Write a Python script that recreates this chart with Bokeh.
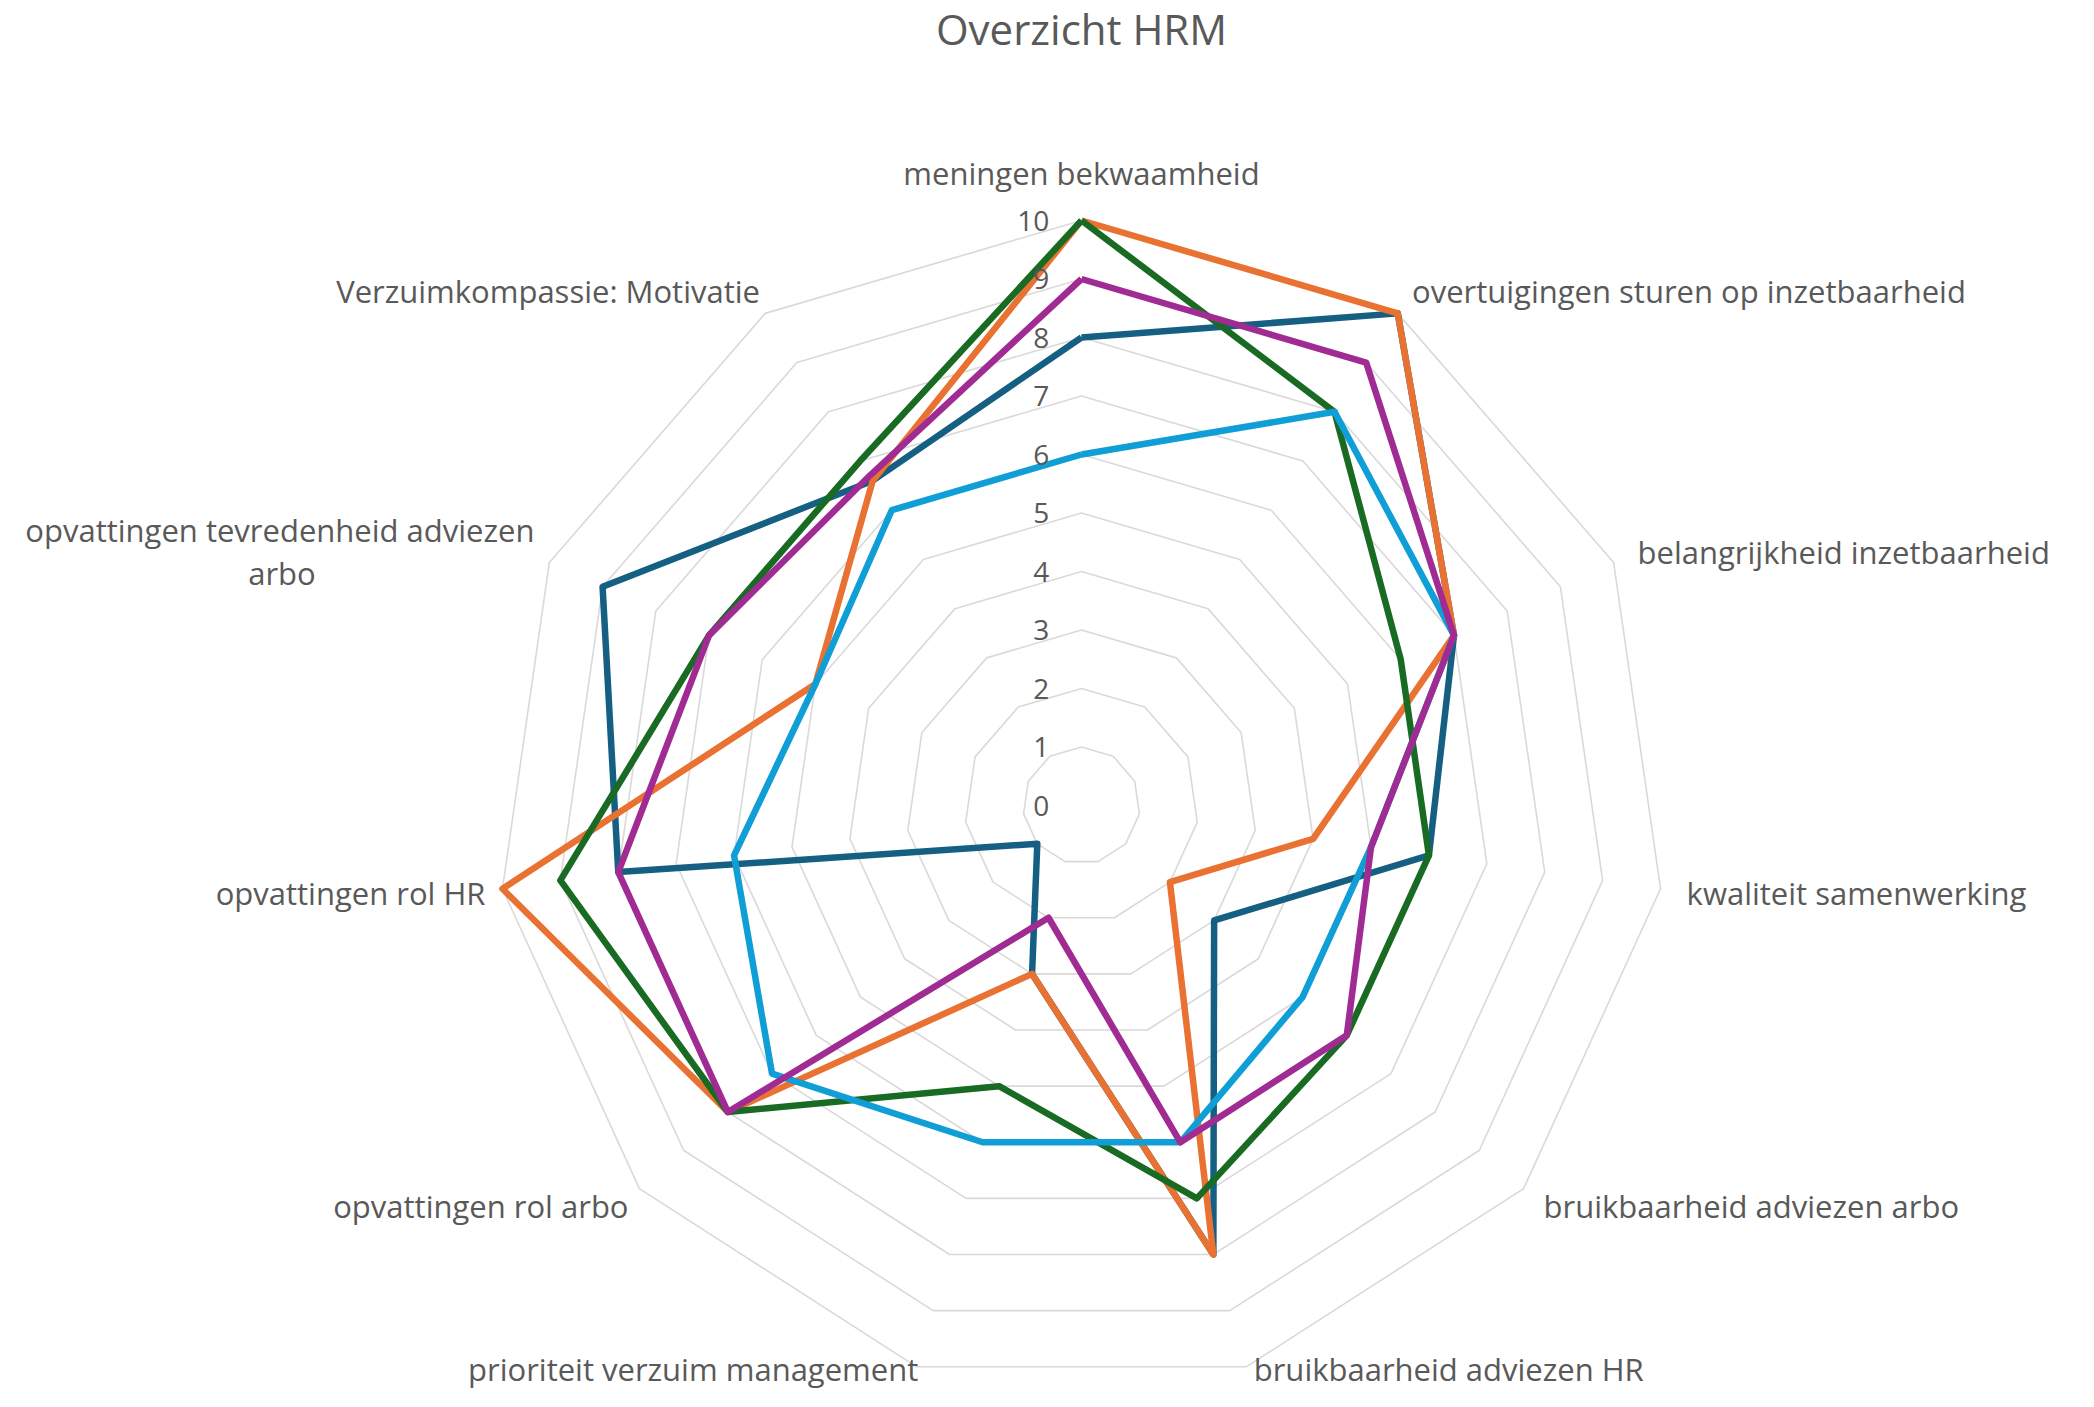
import math
from bokeh.plotting import figure
from bokeh.models import Range1d
from bokeh.core.properties import value
from bokeh.embed import file_html
from bokeh.resources import INLINE

# ---------------- data ----------------
title_text = "Overzicht HRM"
categories = [
    "meningen bekwaamheid",
    "overtuigingen sturen op inzetbaarheid",
    "belangrijkheid inzetbaarheid",
    "kwaliteit samenwerking",
    "bruikbaarheid adviezen arbo",
    "bruikbaarheid adviezen HR",
    "prioriteit verzuim management",
    "opvattingen rol arbo",
    "opvattingen rol HR",
    "opvattingen tevredenheid adviezen arbo",
    "Verzuimkompassie: Motivatie",
]
series1 = [8, 10, 7, 6, 3, 8, 3, 1, 8, 9, 6.6]     # dark teal
series2 = [10, 10, 7, 4, 2, 8, 3, 8, 10, 5, 6.6]   # orange
series3 = [10, 8, 6, 6, 6, 7, 5, 8, 9, 7, 7]       # green
series4 = [6, 8, 7, 5, 5, 6, 6, 7, 6, 5, 6]        # blue
series5 = [9, 9, 7, 5, 6, 6, 2, 8, 8, 7, 6.7]      # purple
tick_values = [0, 1, 2, 3, 4, 5, 6, 7, 8, 9, 10]
tick_labels = ["0", "1", "2", "3", "4", "5", "6", "7", "8", "9", "10"]

series = [series1, series2, series3, series4, series5]
colors = ["#156082", "#E97132", "#196B24", "#0F9ED5", "#A02B93"]

# ---------------- layout ----------------
W, H = 2078, 1391
S = 58.5          # pixels per value unit
CX, CY = 1081, 805
N = len(categories)
thetas = [math.pi / 2 - 2 * math.pi * k / N for k in range(N)]

p = figure(width=W, height=H,
           x_range=Range1d(-CX / S, (W - CX) / S),
           y_range=Range1d(-(H - CY) / S, CY / S),
           output_backend="svg", toolbar_location=None,
           x_axis_location=None, y_axis_location=None, min_border=0)
p.grid.visible = False
p.outline_line_color = None
p.background_fill_color = "white"

FONT = value("Open Sans")
TXT = "#595959"

# grid rings
ring_xs, ring_ys = [], []
for v in tick_values[1:]:
    ring_xs.append([v * math.cos(t) for t in thetas] + [v * math.cos(thetas[0])])
    ring_ys.append([v * math.sin(t) for t in thetas] + [v * math.sin(thetas[0])])
p.multi_line(ring_xs, ring_ys, line_color="#D9D9D9", line_width=1.6)

# series
for vals, col in zip(series, colors):
    xs = [v * math.cos(t) for v, t in zip(vals, thetas)]
    ys = [v * math.sin(t) for v, t in zip(vals, thetas)]
    xs.append(xs[0]); ys.append(ys[0])
    p.line(xs, ys, line_color=col, line_width=6.5, line_join="round")

# tick labels on the vertical axis
p.text(x=[-0.55] * len(tick_values), y=tick_values, text=tick_labels,
       text_font=FONT, text_font_size="28px", text_color=TXT,
       text_align="right", text_baseline="middle")

# category labels
LR = 10.45
bottom_limit = -(H - CY - 2) / S
for cat, t in zip(categories, thetas):
    ax, ay = LR * math.cos(t), LR * math.sin(t)
    cx = math.cos(t)
    if abs(cx) < 0.05:
        align, base = "center", ("bottom" if ay > 0 else "top")
    elif cx > 0:
        align, base = "left", "middle"
    else:
        align, base = "right", "middle"
        ax += 9 / S
    if ay - 20 / S < bottom_limit:
        ay, base = bottom_limit, "bottom"
    if cat == "opvattingen tevredenheid adviezen arbo":
        line1, line2 = "opvattingen tevredenheid adviezen", "arbo"
        w1 = 505 / S
        p.text(x=[ax], y=[ay + 21.5 / S], text=[line1], text_font=FONT,
               text_font_size="31px", text_color=TXT,
               text_align="right", text_baseline="middle")
        p.text(x=[ax - w1 / 2], y=[ay - 21.5 / S], text=[line2], text_font=FONT,
               text_font_size="31px", text_color=TXT,
               text_align="center", text_baseline="middle")
    else:
        p.text(x=[ax], y=[ay], text=[cat], text_font=FONT,
               text_font_size="31px", text_color=TXT,
               text_align=align, text_baseline=base)

# title
p.text(x=[0], y=[(CY - 28) / S], text=[title_text], text_font=FONT,
       text_font_size="42px", text_color=TXT,
       text_align="center", text_baseline="middle")

open("out.html", "w").write(file_html(p, INLINE))
